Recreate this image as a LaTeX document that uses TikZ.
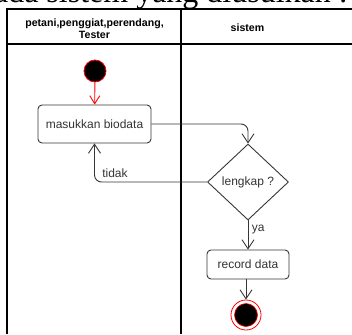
\documentclass[tikz,border=0pt]{standalone}
\usepackage{fontspec}
\setmainfont{Liberation Sans}
\newfontfamily\pageserif{Liberation Serif}
\usetikzlibrary{shapes.geometric,arrows.meta,positioning}

\definecolor{linegray}{HTML}{363636}
\definecolor{textgray}{HTML}{333333}

\tikzset{
  action/.style={draw=linegray, rounded corners=4pt, line width=0.9pt,
    text=textgray, font=\fontsize{12}{14}\selectfont, inner sep=0pt},
  choice/.style={diamond, aspect=1, draw=linegray, line width=0.9pt,
    text=textgray, font=\fontsize{12}{14}\selectfont, inner sep=0pt,
    minimum width=81pt, minimum height=76pt},
  flow/.style={draw=linegray, line width=0.9pt,
    -{Straight Barb[length=9pt,width=12pt]}},
  lane/.style={line width=1.1pt},
  head/.style={font=\fontsize{10.6}{12}\selectfont\bfseries, align=center},
}

\begin{document}
\begin{tikzpicture}[x=1pt,y=-1pt]
    \useasboundingbox (0,0) rectangle (352,334);
    \clip (0,0) rectangle (352,334);

    % text of the page above the picture
    \node(caption) [anchor=base east, inner sep=0pt,
      font=\pageserif\fontsize{32}{36}\selectfont] at (348,3)
      {pada sistem yang diusulkan :};

    % Swimlanes
    \draw[lane] (7,334) -- (7,9) -- (352,9);
    \draw[lane] (7,44) -- (352,44);
    \draw[lane] (181,9) -- (181,334);
    \node(L1) [head] at (94.5,28.5) {petani,penggiat,perendang,\\Tester};
    \node(L2) [head] at (247.5,28) {sistem};

    % Nodes
    \node(start) [circle, fill=black, draw=red, line width=0.8pt,
      minimum size=22pt, inner sep=0pt] at (95,71) {};
    \node(biodata) [action, minimum width=113pt, minimum height=38pt]
      at (94.5,124) {masukkan biodata};
    \node(check) [choice] at (248,182) {lengkap ?};
    \node(record) [action, minimum width=82pt, minimum height=29pt]
      at (248,264.5) {record data};
    \node(final) [circle, draw=red, fill=white, line width=0.8pt,
      minimum size=30pt, inner sep=0pt] at (246,315) {};
    \node(finalcore) [circle, fill=black, draw=red, line width=0.6pt,
      minimum size=23pt, inner sep=0pt] at (final) {};

    % Arrows
    \draw[flow, draw=red, -{Straight Barb[length=8pt,width=10pt]}]
      (start) -- (biodata);
    \draw[flow, rounded corners=7pt] (biodata.east)
      -- (biodata.east -| check.north) -- (check.north);
    \draw[flow, rounded corners=7pt] (check.west)
      -- (check.west -| biodata.south)
      node[above right=1pt and 4pt, text=textgray,
        font=\fontsize{12}{14}\selectfont] {tidak}
      -- (biodata.south);
    \draw[flow] (check.south) -- node[right, pos=0.3, text=textgray,
      font=\fontsize{12}{14}\selectfont] {ya} (record.north);
    \draw[flow] (record.south -| final.north) -- (final.north);
  \end{tikzpicture}
\end{document}
